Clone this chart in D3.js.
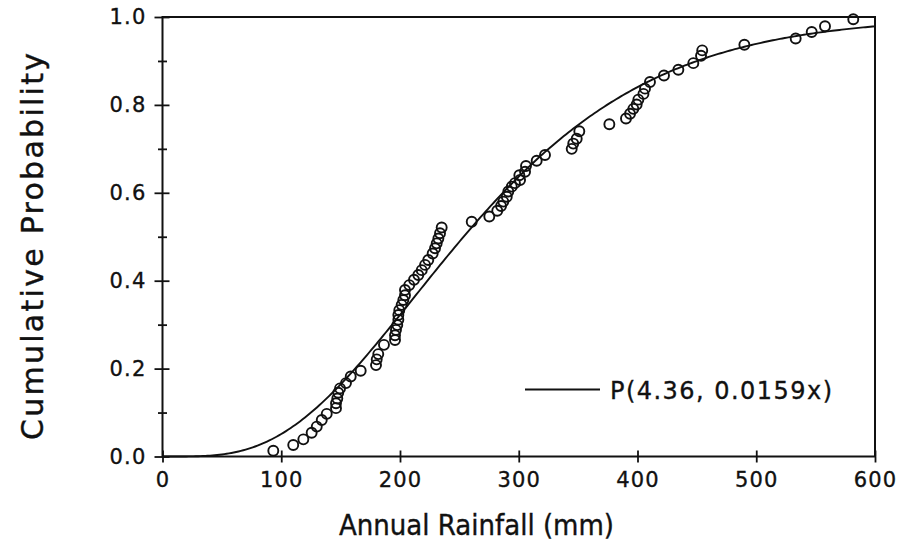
<!DOCTYPE html>
<html>
<head>
<meta charset="utf-8">
<script src="https://cdn.jsdelivr.net/npm/d3@7"></script>
<style>
  html, body { margin: 0; padding: 0; background: #fff; }
  svg { display: block; }
  text { font-family: "DejaVu Sans", sans-serif; fill: #111; }
</style>
</head>
<body>
<svg id="chart" width="901" height="547"></svg>
<script>
// Observed annual rainfall (mm), sorted, with plotting-position probabilities
const rainfall = [
  93.3, 110.1, 118.6, 125.6, 129.9, 134.1, 138.3, 146.1, 146.1, 147.2,
  148.0, 149.5, 154.5, 158.5, 166.9, 179.8, 180.4, 181.7, 186.5, 195.8,
  195.8, 196.6, 197.7, 198.6, 198.6, 199.4, 201.4, 202.8, 204.2, 204.2,
  207.8, 211.8, 215.4, 218.3, 221.1, 223.8, 227.5, 229.5, 230.9, 232.3,
  233.7, 235.1, 260.4, 275.2, 281.9, 285.1, 287.0, 289.9, 291.2, 294.1,
  296.8, 301.1, 300.5, 305.3, 306.1, 315.1, 322.1, 344.6, 345.9, 348.8,
  351.0, 376.3, 390.3, 393.7, 396.5, 399.3, 400.7, 405.0, 406.3, 410.5,
  422.3, 434.4, 447.0, 453.5, 454.5, 490.0, 533.2, 546.7, 557.9, 581.7
];
const probability = [
  0.013, 0.026, 0.039, 0.054, 0.068, 0.083, 0.097, 0.110, 0.121, 0.132,
  0.145, 0.155, 0.167, 0.182, 0.195, 0.208, 0.221, 0.233, 0.254, 0.265,
  0.276, 0.288, 0.299, 0.311, 0.322, 0.333, 0.345, 0.356, 0.367, 0.379,
  0.390, 0.402, 0.413, 0.424, 0.436, 0.447, 0.462, 0.474, 0.485, 0.496,
  0.508, 0.521, 0.534, 0.546, 0.559, 0.570, 0.580, 0.591, 0.603, 0.614,
  0.622, 0.629, 0.640, 0.648, 0.661, 0.673, 0.686, 0.700, 0.712, 0.723,
  0.740, 0.756, 0.769, 0.780, 0.791, 0.801, 0.812, 0.825, 0.837, 0.852,
  0.867, 0.880, 0.895, 0.912, 0.924, 0.937, 0.951, 0.966, 0.979, 0.995
];

// Fitted gamma distribution: P(shape, rate * x)
const fitShape = 4.36;
const fitRate = 0.0159;
const legendLabel = "P(4.36, 0.0159x)";

const xTicks = [0, 100, 200, 300, 400, 500, 600];
const yTicks = [0.0, 0.2, 0.4, 0.6, 0.8, 1.0];
const yMinorTicks = [0.1, 0.3, 0.5, 0.7, 0.9];
const xTitle = "Annual Rainfall (mm)";
const yTitle = "Cumulative Probability";

// log-gamma (Lanczos)
function lnGamma(z) {
  const g = 7;
  const c = [0.99999999999980993, 676.5203681218851, -1259.1392167224028,
    771.32342877765313, -176.61502916214059, 12.507343278686905,
    -0.13857109526572012, 9.9843695780195716e-6, 1.5056327351493116e-7];
  if (z < 0.5) return Math.log(Math.PI / Math.sin(Math.PI * z)) - lnGamma(1 - z);
  z -= 1;
  let a = c[0];
  const t = z + g + 0.5;
  for (let i = 1; i < g + 2; i++) a += c[i] / (z + i);
  return 0.5 * Math.log(2 * Math.PI) + (z + 0.5) * Math.log(t) - t + Math.log(a);
}

// Regularized lower incomplete gamma function P(a, x)
function gammaP(a, x) {
  if (x <= 0) return 0;
  const gln = lnGamma(a);
  if (x < a + 1) {
    let ap = a, sum = 1 / a, del = sum;
    for (let n = 0; n < 500; n++) {
      ap += 1; del *= x / ap; sum += del;
      if (Math.abs(del) < Math.abs(sum) * 1e-14) break;
    }
    return sum * Math.exp(-x + a * Math.log(x) - gln);
  }
  // continued fraction for Q, then P = 1 - Q
  const FPMIN = 1e-300;
  let b = x + 1 - a, c = 1 / FPMIN, d = 1 / b, h = d;
  for (let i = 1; i < 500; i++) {
    const an = -i * (i - a);
    b += 2;
    d = an * d + b; if (Math.abs(d) < FPMIN) d = FPMIN;
    c = b + an / c; if (Math.abs(c) < FPMIN) c = FPMIN;
    d = 1 / d;
    const del = d * c;
    h *= del;
    if (Math.abs(del - 1) < 1e-14) break;
  }
  return 1 - Math.exp(-x + a * Math.log(x) - gln) * h;
}

const svg = d3.select("#chart");
const x = d3.scaleLinear().domain([0, 600]).range([162.5, 875]);
const y = d3.scaleLinear().domain([0, 1]).range([456.5, 17]);

const axisStyle = g => {
  g.select(".domain").remove();
  g.selectAll(".tick line").attr("stroke", "#111").attr("stroke-width", 1.8);
};
const labelStyle = g => g.selectAll(".tick text")
  .attr("font-size", 21).attr("letter-spacing", 1.2)
  .attr("fill", "#111").attr("stroke", "#111").attr("stroke-width", 0.35)
  .style("font-family", "DejaVu Sans, sans-serif");

// frame
svg.append("rect")
  .attr("x", x(0)).attr("y", y(1))
  .attr("width", x(600) - x(0)).attr("height", y(0) - y(1))
  .attr("fill", "none").attr("stroke", "#111").attr("stroke-width", 2);

// x axis: ticks cross the bottom line
svg.append("g")
  .attr("transform", `translate(0,${y(0)})`)
  .call(d3.axisBottom(x).tickValues(xTicks).tickSize(6).tickPadding(10)
        .tickFormat(d3.format("d")))
  .call(axisStyle)
  .call(labelStyle);
svg.append("g")
  .attr("transform", `translate(0,${y(0)})`)
  .call(d3.axisTop(x).tickValues(xTicks).tickSize(6).tickFormat(""))
  .call(axisStyle);

// y axis: major ticks with labels, minor ticks shorter, all crossing the left line
svg.append("g")
  .attr("transform", `translate(${x(0)},0)`)
  .call(d3.axisLeft(y).tickValues(yTicks).tickSize(8).tickPadding(8)
        .tickFormat(d3.format(".1f")))
  .call(axisStyle)
  .call(labelStyle);
svg.append("g")
  .attr("transform", `translate(${x(0)},0)`)
  .call(d3.axisRight(y).tickValues(yTicks).tickSize(7).tickFormat(""))
  .call(axisStyle);
svg.append("g")
  .attr("transform", `translate(${x(0)},0)`)
  .call(d3.axisLeft(y).tickValues(yMinorTicks).tickSize(4.5).tickFormat(""))
  .call(axisStyle);
svg.append("g")
  .attr("transform", `translate(${x(0)},0)`)
  .call(d3.axisRight(y).tickValues(yMinorTicks).tickSize(4.5).tickFormat(""))
  .call(axisStyle);

// fitted curve
const curveX = d3.range(0, 600.01, 2);
const line = d3.line()
  .x(d => x(d))
  .y(d => y(gammaP(fitShape, fitRate * d)));
svg.append("path")
  .datum(curveX)
  .attr("d", line)
  .attr("fill", "none")
  .attr("stroke", "#111")
  .attr("stroke-width", 1.9);

// observed points
svg.append("g")
  .selectAll("circle")
  .data(rainfall.map((r, i) => [r, probability[i]]))
  .join("circle")
  .attr("cx", d => x(d[0]))
  .attr("cy", d => y(d[1]))
  .attr("r", 5)
  .attr("fill", "none")
  .attr("stroke", "#111")
  .attr("stroke-width", 1.9);

// legend
svg.append("line")
  .attr("x1", 525).attr("x2", 600)
  .attr("y1", 389.5).attr("y2", 389.5)
  .attr("stroke", "#111").attr("stroke-width", 1.8);
svg.append("text")
  .attr("x", 610).attr("y", 398.5)
  .attr("font-size", 24)
  .attr("stroke", "#111").attr("stroke-width", 0.35)
  .attr("textLength", 222).attr("lengthAdjust", "spacing")
  .text(legendLabel);

// axis titles
svg.append("text")
  .attr("x", 339).attr("y", 535)
  .attr("font-size", 29)
  .attr("stroke", "#111").attr("stroke-width", 0.4)
  .attr("textLength", 275).attr("lengthAdjust", "spacingAndGlyphs")
  .text(xTitle);
svg.append("text")
  .attr("transform", "translate(43,440) rotate(-90)")
  .attr("font-size", 30)
  .attr("stroke", "#111").attr("stroke-width", 0.4)
  .attr("textLength", 387).attr("lengthAdjust", "spacing")
  .text(yTitle);
</script>
</body>
</html>
